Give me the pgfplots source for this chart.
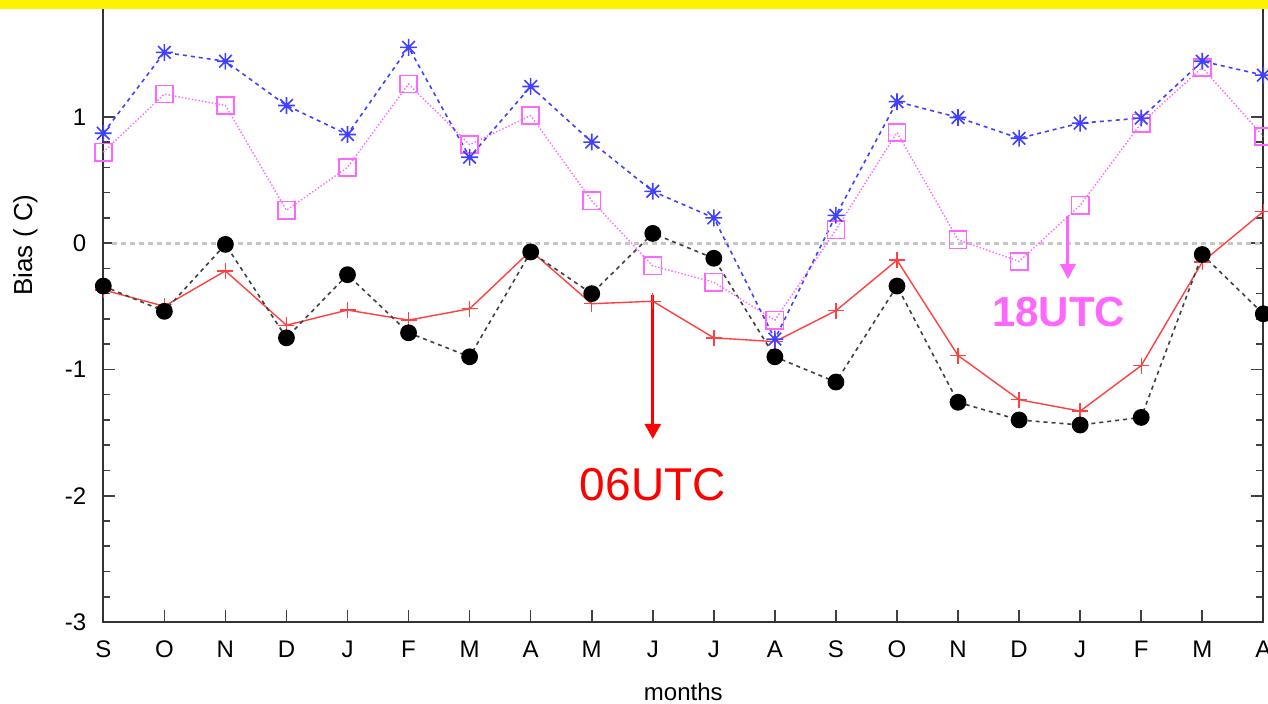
\documentclass[border=0pt]{standalone}
\usepackage{fontspec}
\setmainfont{Liberation Sans}
\usepackage{pgfplots}
\usepackage{pgfplotstable}
\pgfplotsset{compat=1.18}
\usetikzlibrary{arrows.meta}
\definecolor{cblue}{HTML}{4040FF}
\definecolor{cmag}{HTML}{FF66FF}
\definecolor{cred}{HTML}{FF4040}
\pgfdeclareplotmark{gstar}{%
  \pgfpathmoveto{\pgfqpoint{-\pgfplotmarksize}{0pt}}\pgfpathlineto{\pgfqpoint{\pgfplotmarksize}{0pt}}%
  \pgfpathmoveto{\pgfqpoint{0pt}{-\pgfplotmarksize}}\pgfpathlineto{\pgfqpoint{0pt}{\pgfplotmarksize}}%
  \pgfpathmoveto{\pgfqpoint{-0.75\pgfplotmarksize}{-0.75\pgfplotmarksize}}\pgfpathlineto{\pgfqpoint{0.75\pgfplotmarksize}{0.75\pgfplotmarksize}}%
  \pgfpathmoveto{\pgfqpoint{-0.75\pgfplotmarksize}{0.75\pgfplotmarksize}}\pgfpathlineto{\pgfqpoint{0.75\pgfplotmarksize}{-0.75\pgfplotmarksize}}%
  \pgfusepathqstroke}
\pgfplotstableread{
x blue mag blk red
0 0.87 0.72 -0.34 -0.37
1 1.51 1.18 -0.54 -0.50
2 1.44 1.09 -0.01 -0.22
3 1.09 0.26 -0.75 -0.65
4 0.86 0.60 -0.25 -0.53
5 1.55 1.26 -0.71 -0.61
6 0.68 0.78 -0.90 -0.52
7 1.24 1.01 -0.07 -0.06
8 0.80 0.335 -0.40 -0.48
9 0.41 -0.18 0.077 -0.46
10 0.20 -0.31 -0.12 -0.75
11 -0.76 -0.61 -0.90 -0.78
12 0.22 0.105 -1.10 -0.535
13 1.12 0.876 -0.34 -0.135
14 0.995 0.026 -1.26 -0.89
15 0.83 -0.145 -1.40 -1.24
16 0.95 0.30 -1.44 -1.33
17 0.99 0.95 -1.38 -0.97
18 1.44 1.39 -0.09 -0.15
19 1.33 0.845 -0.56 0.25
}\datatable
\begin{document}
\begin{tikzpicture}
\begin{axis}[
  name=ax,
  width=580pt, height=311pt, scale only axis,
  xmin=0, xmax=19, ymin=-3, ymax=1.925,
  clip=false,
  xtick={0,...,19},
  xticklabels={S,O,N,D,J,F,M,A,M,J,J,A,S,O,N,D,J,F,M,A},
  ytick={-3,-2,-1,0,1},
  minor y tick num=4,
  tick align=inside,
  xtick pos=left,
  ytick pos=both,
  major tick length=6pt,
  minor tick length=3.5pt,
  tick style={black!75, line width=0.8pt},
  axis line style={black!80, line width=1pt},
  ticklabel style={font=\fontsize{12}{14}\selectfont},
  xticklabel style={yshift=-6pt},
  yticklabel style={xshift=-5pt},
  /pgf/number format/assume math mode=true,
  xlabel={months},
  xlabel style={at={(axis description cs:0.5,0)}, anchor=center, yshift=-35pt, font=\fontsize{12}{14}\selectfont},
  ylabel={Bias ( C)},
  ylabel style={at={(axis description cs:-0.0672,0.606)}, anchor=center, font=\fontsize{13}{15}\selectfont},
]
\addplot[gray!45, dash pattern=on 2.5pt off 2pt, line width=1.5pt] coordinates {(0.15,0) (19,0)};
\addplot[cred, line width=0.7pt, mark=+, mark size=4pt, mark options={solid, line width=0.7pt}] table[x=x,y=red] {\datatable};
\addplot[black!75, dash pattern=on 2pt off 2pt, line width=0.8pt, mark=*, mark size=3.8pt, mark options={solid, fill=black, draw=black}] table[x=x,y=blk] {\datatable};
\addplot[cmag, densely dotted, line width=0.7pt, mark=square, mark size=4.3pt, mark options={solid, line width=0.8pt}] table[x=x,y=mag] {\datatable};
\addplot[cblue, dash pattern=on 2pt off 2pt, line width=0.8pt, mark=gstar, mark size=4.2pt, mark options={solid, line width=0.8pt}] table[x=x,y=blue] {\datatable};
\draw[red, line width=1.5pt, -{Triangle[length=7.5pt,width=8pt]}] (axis cs:9,-0.41) -- (axis cs:9,-1.55);
\node[red, font=\fontsize{23}{26}\selectfont] at (axis cs:9,-1.91) {06UTC};
\draw[cmag, line width=1.5pt, -{Triangle[length=7.5pt,width=7.5pt]}] (axis cs:15.8,0.215) -- (axis cs:15.8,-0.285);
\node[cmag, font=\fontsize{21}{24}\selectfont\bfseries] at (axis cs:15.65,-0.546) {18UTC};
\end{axis}
\pgfresetboundingbox
\path[use as bounding box] ([shift={(-51.65pt,-40.5pt)}]ax.south west) rectangle ++(634pt,351.5pt);
\fill[yellow] ([shift={(-51.65pt,311pt)}]ax.south west) rectangle ++(634pt,-4.5pt);
\end{tikzpicture}
\end{document}
